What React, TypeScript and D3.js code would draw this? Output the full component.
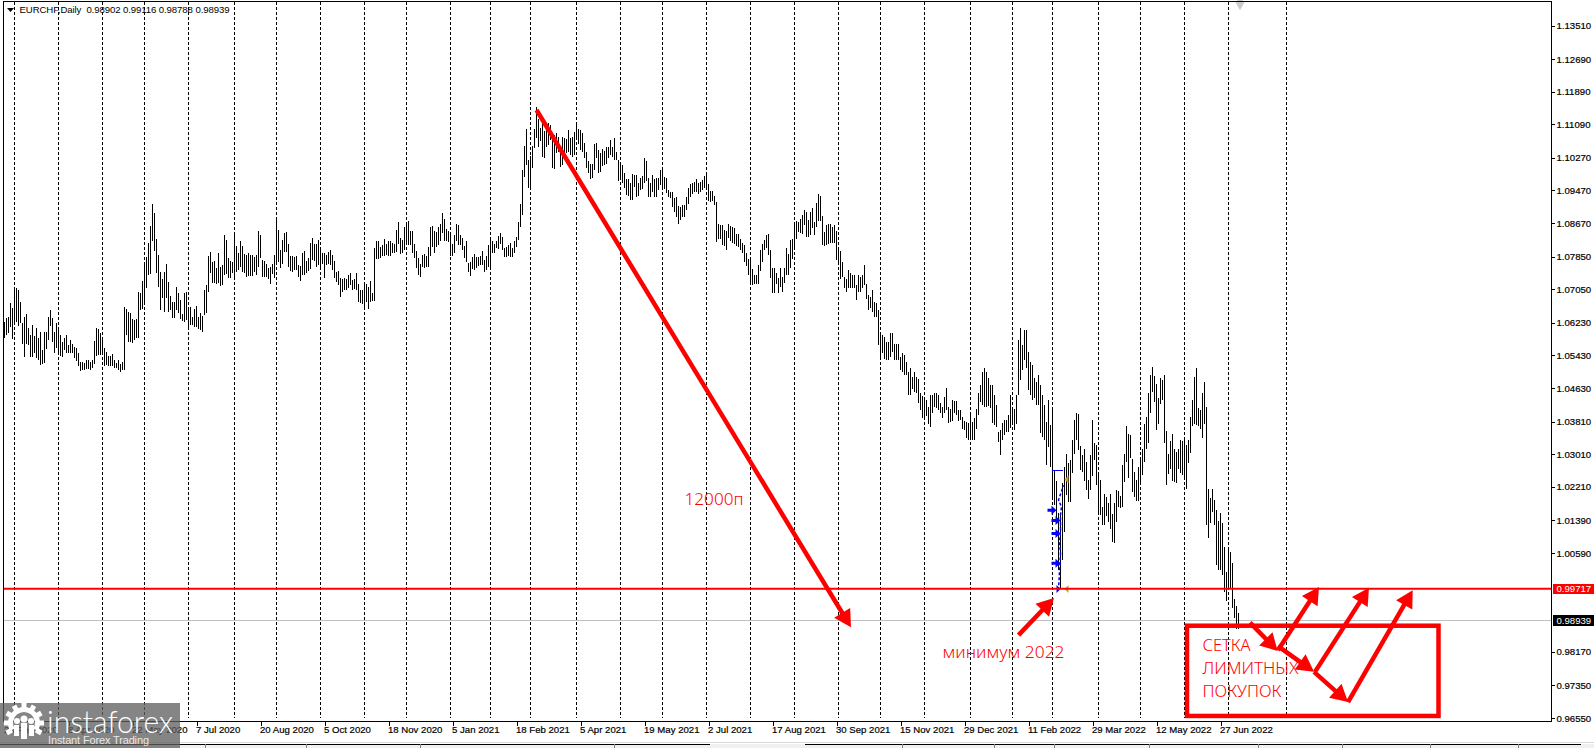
import { useEffect, useRef } from 'react';
import * as d3 from 'd3';

// daily highs and lows of EURCHF, in 1/10000 of a franc
const highPoints = [
  10626,10634,10638,10671,10658,10707,10707,10703,10675,10622,10638,10644,10609,10593,10618,10591,10609,10585,10601,10556,
  10601,10600,10638,10654,10634,10601,10623,10605,10593,10577,10585,10593,10569,10581,10570,10564,10560,10550,10528,10526,
  10524,10532,10532,10528,10533,10578,10609,10607,10599,10589,10560,10552,10542,10542,10547,10532,10524,10532,10522,10526,
  10662,10656,10650,10648,10632,10630,10631,10699,10695,10726,10764,10785,10819,10860,10914,10891,10827,10789,10748,10729,
  10748,10768,10724,10689,10675,10675,10710,10695,10679,10644,10697,10699,10662,10662,10638,10656,10665,10638,10646,10640,
  10703,10715,10786,10797,10773,10774,10756,10793,10760,10764,10838,10826,10781,10774,10773,10838,10811,10793,10822,10811,
  10791,10789,10793,10789,10789,10785,10789,10848,10838,10777,10774,10767,10756,10759,10767,10789,10883,10850,10801,10826,
  10842,10846,10816,10787,10787,10785,10787,10764,10762,10795,10799,10774,10782,10819,10830,10817,10816,10826,10809,10795,
  10793,10789,10797,10800,10789,10775,10748,10750,10732,10729,10732,10729,10740,10746,10728,10729,10746,10718,10703,10703,
  10715,10717,10711,10725,10697,10805,10822,10823,10808,10813,10827,10817,10822,10822,10819,10817,10850,10869,10830,10826,
  10857,10869,10872,10848,10848,10816,10799,10781,10767,10789,10791,10787,10808,10858,10860,10848,10846,10858,10866,10891,
  10876,10852,10848,10838,10817,10838,10866,10862,10839,10830,10811,10823,10770,10773,10785,10791,10783,10785,10787,10799,
  10777,10787,10813,10834,10822,10817,10824,10835,10844,10834,10807,10809,10813,10819,10807,10824,10834,10869,10915,10997,
  11056,11097,11022,11031,11056,11097,11151,11121,11099,11115,11093,11107,11111,11107,11071,11084,11087,11079,11054,11079,
  11075,11072,11095,11075,11079,11091,11115,11097,11095,11087,11064,11042,11019,11013,11013,11062,11064,11046,11038,11048,
  11044,11054,11054,11071,11053,11075,11042,11022,11015,11009,10989,10974,10974,10965,10987,10985,10985,10965,10977,10982,
  11026,11020,10977,10965,10985,10974,10977,10977,10997,11001,10979,10978,10948,10944,10944,10928,10930,10908,10907,10911,
  10911,10931,10952,10964,10966,10968,10974,10966,10968,10972,10982,10987,10964,10945,10945,10933,10919,10864,10862,10862,
  10850,10848,10864,10860,10858,10856,10840,10840,10829,10819,10813,10793,10780,10778,10754,10739,10739,10764,10802,10817,
  10825,10837,10840,10802,10756,10756,10744,10733,10756,10735,10756,10805,10791,10825,10829,10866,10872,10870,10878,10886,
  10900,10894,10874,10894,10903,10870,10917,10938,10933,10884,10846,10862,10864,10864,10858,10862,10848,10809,10799,10772,
  10735,10731,10752,10744,10739,10739,10715,10739,10735,10739,10764,10717,10690,10686,10703,10674,10672,10654,10601,10593,
  10588,10576,10576,10597,10597,10572,10572,10572,10540,10548,10544,10527,10503,10511,10491,10503,10491,10486,10450,10443,
  10442,10435,10417,10447,10446,10452,10452,10446,10427,10417,10440,10464,10417,10411,10433,10432,10432,10409,10409,10393,
  10383,10380,10378,10397,10380,10389,10411,10450,10470,10502,10512,10502,10487,10470,10470,10446,10421,10355,10360,10377,
  10384,10384,10397,10446,10409,10411,10446,10581,10610,10568,10605,10605,10551,10527,10519,10487,10478,10495,10470,10446,
  10421,10380,10434,10372,10409,10260,10235,10157,10157,10230,10270,10301,10279,10287,10337,10385,10401,10399,10321,10299,
  10315,10283,10238,10299,10385,10329,10323,10250,10239,10172,10203,10197,10181,10203,10155,10181,10213,10212,10199,10274,
  10301,10370,10350,10347,10289,10258,10239,10270,10295,10314,10376,10393,10452,10495,10515,10492,10474,10438,10487,10484,
  10495,10358,10301,10334,10350,10315,10307,10315,10336,10334,10340,10323,10336,10393,10435,10491,10511,10413,10409,10450,
  10477,10417,10217,10193,10215,10189,10164,10137,10157,10132,10073,10012,10070,10061,10034,9946,9929,9912,
];
const lowPoints = [
  10586,10593,10597,10613,10583,10618,10626,10615,10622,10571,10540,10571,10569,10540,10538,10548,10536,10532,10520,10522,
  10524,10559,10581,10616,10577,10550,10562,10552,10542,10540,10556,10548,10548,10548,10548,10536,10529,10517,10505,10507,
  10507,10509,10509,10507,10511,10521,10542,10544,10544,10548,10516,10520,10517,10517,10516,10511,10511,10507,10503,10507,
  10507,10593,10577,10577,10574,10581,10585,10585,10654,10656,10666,10707,10740,10742,10822,10799,10744,10711,10654,10683,
  10650,10683,10650,10654,10634,10634,10654,10646,10631,10627,10626,10630,10613,10618,10618,10613,10612,10607,10605,10601,
  10642,10648,10699,10744,10720,10720,10718,10720,10713,10715,10740,10742,10732,10732,10744,10736,10748,10752,10759,10748,
  10744,10734,10737,10737,10737,10748,10740,10760,10781,10734,10734,10734,10729,10718,10742,10732,10773,10773,10758,10767,
  10797,10797,10760,10750,10748,10752,10752,10736,10726,10740,10740,10746,10750,10754,10777,10774,10759,10764,10756,10767,
  10733,10764,10767,10764,10752,10732,10724,10715,10687,10699,10703,10702,10707,10715,10702,10706,10703,10675,10671,10669,
  10661,10675,10657,10675,10676,10676,10779,10779,10781,10786,10787,10789,10787,10787,10793,10793,10797,10817,10791,10793,
  10801,10813,10813,10813,10793,10781,10758,10740,10734,10760,10756,10759,10759,10786,10809,10795,10809,10813,10822,10844,
  10822,10822,10820,10787,10787,10793,10822,10813,10813,10801,10781,10773,10748,10738,10754,10752,10756,10762,10764,10764,
  10748,10751,10759,10759,10795,10793,10805,10803,10817,10801,10785,10783,10786,10785,10783,10795,10809,10826,10858,10887,
  10981,11009,10952,10956,11001,11050,11075,11054,11067,11030,11026,11053,11058,11071,11001,11000,11038,11042,11005,11009,
  11034,11038,11042,11034,11030,11034,11071,11062,11046,11042,11026,11001,10989,10974,10977,10997,11026,10989,10991,11007,
  11009,11013,11026,11034,11030,11022,11022,10971,10977,10965,10952,10936,10934,10924,10924,10956,10932,10934,10948,10950,
  10965,10969,10930,10930,10944,10930,10930,10948,10960,10951,10951,10940,10930,10928,10906,10895,10883,10866,10874,10881,
  10882,10899,10915,10930,10939,10943,10943,10938,10943,10948,10952,10949,10921,10919,10921,10911,10821,10829,10829,10813,
  10810,10801,10831,10823,10819,10817,10811,10809,10801,10794,10772,10762,10739,10717,10715,10717,10717,10717,10749,10772,
  10802,10807,10788,10733,10696,10695,10717,10695,10711,10699,10721,10741,10739,10756,10780,10801,10829,10846,10844,10841,
  10863,10833,10833,10837,10854,10837,10858,10872,10872,10813,10811,10813,10817,10819,10819,10819,10776,10768,10731,10734,
  10707,10699,10707,10707,10707,10707,10678,10699,10699,10709,10715,10680,10655,10658,10650,10636,10636,10568,10540,10548,
  10535,10531,10531,10540,10552,10531,10531,10531,10507,10503,10496,10495,10446,10446,10460,10454,10452,10427,10409,10389,
  10393,10394,10376,10368,10401,10417,10413,10409,10401,10389,10401,10409,10378,10380,10383,10401,10398,10383,10384,10364,
  10360,10340,10336,10344,10336,10336,10364,10397,10429,10421,10416,10416,10419,10414,10377,10372,10367,10331,10299,10336,
  10348,10355,10355,10365,10377,10360,10375,10446,10483,10507,10532,10512,10458,10446,10434,10438,10421,10421,10353,10343,
  10336,10274,10319,10269,10196,10176,10132,10017,9971,10042,10111,10201,10185,10185,10254,10301,10336,10311,10262,10258,
  10236,10213,10191,10213,10248,10287,10226,10156,10152,10128,10128,10150,10136,10119,10087,10084,10136,10171,10170,10171,
  10234,10283,10242,10291,10209,10197,10187,10187,10226,10250,10283,10315,10328,10401,10454,10430,10360,10376,10425,10434,
  10329,10226,10252,10266,10236,10234,10230,10266,10254,10250,10242,10217,10279,10305,10370,10376,10372,10370,10362,10340,
  10376,10128,10097,10133,10160,10128,10029,10017,10017,10005,9963,9941,9968,9973,9924,9900,9873,9873,
];

// bar index of every month separator
const monthBars = [5,27,49,70,92,115,136,158,180,201,223,243,263,286,308,329,351,373,395,417,438,460,483,504,524,547,568,590,612,641];

// the time axis labels every 32nd bar
const dateLabels = [
  '24 Feb 2020','8 Apr 2020','22 May 2020','7 Jul 2020','20 Aug 2020','5 Oct 2020','18 Nov 2020','5 Jan 2021','18 Feb 2021','5 Apr 2021',
  '19 May 2021','2 Jul 2021','17 Aug 2021','30 Sep 2021','15 Nov 2021','29 Dec 2021','11 Feb 2022','29 Mar 2022','12 May 2022','27 Jun 2022',
];
const priceTicks = [
  1.1351,1.1269,1.1189,1.1109,1.1027,1.0947,1.0867,1.0785,1.0705,1.0623,1.0543,1.0463,1.0381,1.0301,1.0221,1.0139,1.0059,0.9817,0.9735,0.9655,
];

const minimumPrice = 0.99717;
const lastPrice = 0.98939;

// hand drawn annotations, as [bar, price, bar, price]
const mainArrow = [266, 1.1144, 423.25, 0.9877];
const minimumArrow = [507, 0.9858, 524.75, 0.9949];
const gridArrows = [
  [622.75, 0.98885, 636.6, 0.9819],
  [636.75, 0.9831, 654.75, 0.9768],
  [654.75, 0.9768, 671.75, 0.9694],
  [636.75, 0.9821, 657.25, 0.9976],
  [655.25, 0.9768, 682.25, 0.9974],
  [671.75, 0.9694, 704.1, 0.9968],
];
const gridBox = [591.25, 0.9881, 717, 0.966];
const gridText = ['СЕТКА', 'ЛИМИТНЫХ', 'ПОКУПОК'];
const gridTextPrices = [0.9819, 0.9762, 0.9706];
const gridTextWidths = [48, 96, 79];

// indicator drawn around the 2022 low
const buyMarks = [[524, 1.0164], [526, 1.0139], [526, 1.0107], [526, 1.0034]];
const stopTrail = [[527, 0.9968], [528, 1.0059], [527.5, 1.0083], [528, 1.0115], [528, 1.0152], [528.5, 1.0172], [527, 1.0189], [529.5, 1.0225]];
const sellMarks = [[531, 1.0239], [531, 0.9971]];

const bottomTicksLeft = [205, 306, 420, 614];
const bottomTicksRight = [902, 994, 1054, 1149, 1258, 1342, 1430, 1518];

const WIDTH = 1594;
const HEIGHT = 748;
const RED = '#ff0000';
const LABEL_FONT = '"Liberation Sans", sans-serif';
const LABEL_SIZE = 9.6;
const NOTE_FONT = '"Noto Sans", sans-serif';

export default function App() {
  const svgRef = useRef<SVGSVGElement>(null);

  useEffect(() => {
    if (!svgRef.current) return;

    const svg = d3.select(svgRef.current);
    svg.selectAll('*').remove();

    const x = d3.scaleLinear().domain([0, 641]).range([4.5, 1286.5]);
    const y = d3.scaleLinear().domain([0.9655, 1.1351]).range([718, 25.5]);

    const plotRight = 1551.5;
    const plotBottom = 721.5;

    svg.append('rect').attr('width', WIDTH).attr('height', HEIGHT).attr('fill', '#ffffff');

    // Strip below the chart
    svg.append('rect').attr('y', 744).attr('width', WIDTH).attr('height', 4).attr('fill', '#f0f0f0');
    svg.append('line').attr('x1', 0).attr('x2', WIDTH).attr('y1', 742.5).attr('y2', 742.5).attr('stroke', '#d8d8d8');
    const strip = svg.append('g').attr('stroke', '#000000').attr('shape-rendering', 'crispEdges');
    strip.append('line').attr('x1', 0).attr('x2', 710).attr('y1', 744.5).attr('y2', 744.5);
    strip.append('line').attr('x1', 805).attr('x2', 1581).attr('y1', 744.5).attr('y2', 744.5);
    [...bottomTicksLeft, ...bottomTicksRight].forEach((t) => {
      strip.append('line').attr('x1', t + 0.5).attr('x2', t + 0.5).attr('y1', 744).attr('y2', 748).attr('stroke', '#808080');
    });

    // Month separators
    svg
      .append('g')
      .selectAll('line')
      .data(monthBars)
      .join('line')
      .attr('x1', (d) => x(d))
      .attr('x2', (d) => x(d))
      .attr('y1', 2)
      .attr('y2', 718)
      .attr('stroke', '#000000')
      .attr('stroke-dasharray', '3,2')
      .attr('shape-rendering', 'crispEdges');

    // Last price line
    svg
      .append('line')
      .attr('x1', 3)
      .attr('x2', plotRight)
      .attr('y1', Math.round(y(lastPrice)) + 0.5)
      .attr('y2', Math.round(y(lastPrice)) + 0.5)
      .attr('stroke', '#c0c0c0')
      .attr('shape-rendering', 'crispEdges');

    // Bars
    svg
      .append('g')
      .selectAll('line')
      .data(highPoints)
      .join('line')
      .attr('x1', (_, i) => x(i))
      .attr('x2', (_, i) => x(i))
      .attr('y1', (d) => y(d / 10000))
      .attr('y2', (_, i) => y(lowPoints[i] / 10000))
      .attr('stroke', '#000000')
      .attr('shape-rendering', 'crispEdges');

    // Indicator marks at the 2022 low
    svg
      .append('line')
      .attr('x1', x(523.5))
      .attr('x2', x(529))
      .attr('y1', y(1.0261))
      .attr('y2', y(1.0261))
      .attr('stroke', '#0000ff')
      .attr('shape-rendering', 'crispEdges');
    svg
      .append('path')
      .attr('d', d3.line<number[]>().x((d) => x(d[0])).y((d) => y(d[1]))(stopTrail))
      .attr('fill', 'none')
      .attr('stroke', '#0000ff')
      .attr('stroke-width', 1.5)
      .attr('stroke-dasharray', '3,2');
    buyMarks.forEach(([b, p]) => {
      const cx = x(b);
      const cy = y(p);
      svg
        .append('path')
        .attr('d', `M${cx - 5},${cy - 1.5}h4v-3l5,4.5l-5,4.5v-3h-4z`)
        .attr('fill', '#0000ff');
    });
    svg
      .append('path')
      .attr('d', `M${x(527) - 2},${y(0.9971) - 4}l4,4l-4,4z`)
      .attr('fill', '#0000ff');
    sellMarks.forEach(([b, p]) => {
      svg
        .append('path')
        .attr('d', `M${x(b) + 2},${y(p) - 4}l-4,4l4,4z`)
        .attr('fill', '#c8a040');
    });

    // Alert marker cut by the top of the window
    svg
      .append('path')
      .attr('d', d3.symbol(d3.symbolDiamond, 60)())
      .attr('transform', `translate(${x(617.75)},${y(1.1406)})`)
      .attr('fill', '#cccccc');

    // Level of the 2022 low
    svg
      .append('line')
      .attr('x1', 3)
      .attr('x2', plotRight)
      .attr('y1', y(minimumPrice))
      .attr('y2', y(minimumPrice))
      .attr('stroke', RED)
      .attr('stroke-width', 2);

    // Frame
    svg
      .append('path')
      .attr('d', `M3.5,${plotBottom}V1.5H${plotRight}V${plotBottom}H3.5`)
      .attr('fill', 'none')
      .attr('stroke', '#000000')
      .attr('shape-rendering', 'crispEdges');
    svg.append('line').attr('x1', 3).attr('x2', 3).attr('y1', 1).attr('y2', plotBottom).attr('stroke', '#000000').attr('shape-rendering', 'crispEdges');

    const styleLabels = (sel: d3.Selection<d3.BaseType, unknown, SVGGElement, unknown>) =>
      sel
        .attr('font-family', LABEL_FONT)
        .attr('font-size', LABEL_SIZE)
        .attr('fill', '#000000')
        .attr('stroke', '#000000')
        .attr('stroke-width', 0.2);

    // Price axis
    const priceAxis = svg
      .append('g')
      .attr('transform', `translate(${plotRight},0)`)
      .call(d3.axisRight(y).tickValues(priceTicks).tickFormat(d3.format('.5f') as never).tickSize(3).tickPadding(2).tickSizeOuter(0));
    priceAxis.select('.domain').remove();
    priceAxis.selectAll('line').attr('shape-rendering', 'crispEdges');
    styleLabels(priceAxis.selectAll('text'));

    // Time axis
    const timeAxis = svg
      .append('g')
      .attr('transform', `translate(0,${plotBottom})`)
      .call(
        d3
          .axisBottom(x)
          .tickValues(dateLabels.map((_, i) => i * 32))
          .tickFormat((_, i) => dateLabels[i])
          .tickSize(4)
          .tickSizeOuter(0),
      );
    timeAxis.select('.domain').remove();
    timeAxis.selectAll('line').attr('shape-rendering', 'crispEdges');
    styleLabels(timeAxis.selectAll('text')).attr('text-anchor', 'start').attr('x', -1).attr('y', 5);

    // Price tags
    const tag = (price: number, top: number, height: number, fill: string) => {
      const py = y(price);
      svg.append('rect').attr('x', 1553).attr('y', top).attr('width', 41).attr('height', height).attr('fill', fill);
      svg
        .append('text')
        .attr('x', 1556.5)
        .attr('y', py + 3.5)
        .attr('font-family', LABEL_FONT)
        .attr('font-size', LABEL_SIZE)
        .attr('fill', '#ffffff')
        .text(d3.format('.5f')(price));
    };
    tag(minimumPrice, 584, 10, RED);
    tag(lastPrice, 615, 11, '#000000');

    // Title
    svg
      .append('path')
      .attr('d', 'M7,8h7l-3.5,4z')
      .attr('fill', '#000000');
    svg
      .append('text')
      .attr('x', 19.5)
      .attr('y', 13)
      .attr('font-family', LABEL_FONT)
      .attr('font-size', 9.6)
      .attr('fill', '#000000')
      .attr('xml:space', 'preserve')
      .attr('textLength', 210)
      .text('EURCHF,Daily  0.98902 0.99116 0.98788 0.98939');

    // Arrows
    const arrow = (coords: number[], width: number, head: number) => {
      const [b0, p0, b1, p1] = coords;
      const x0 = x(b0);
      const y0 = y(p0);
      const x1 = x(b1);
      const y1 = y(p1);
      const len = Math.hypot(x1 - x0, y1 - y0);
      const ux = (x1 - x0) / len;
      const uy = (y1 - y0) / len;
      const bx = x1 - ux * head;
      const by = y1 - uy * head;
      svg
        .append('line')
        .attr('x1', x0)
        .attr('y1', y0)
        .attr('x2', bx + ux * 2)
        .attr('y2', by + uy * 2)
        .attr('stroke', RED)
        .attr('stroke-width', width);
      const half = head * 0.55;
      svg
        .append('polygon')
        .attr('points', `${x1},${y1} ${bx - uy * half},${by + ux * half} ${bx + uy * half},${by - ux * half}`)
        .attr('fill', RED);
    };
    arrow(mainArrow, 4.5, 17);
    arrow(minimumArrow, 4.5, 17);
    gridArrows.forEach((a) => arrow(a, 4.5, 17));

    // Box of the limit orders
    svg
      .append('rect')
      .attr('x', x(gridBox[0]))
      .attr('y', y(gridBox[1]))
      .attr('width', x(gridBox[2]) - x(gridBox[0]))
      .attr('height', y(gridBox[3]) - y(gridBox[1]))
      .attr('fill', 'none')
      .attr('stroke', RED)
      .attr('stroke-width', 4.5);

    const note = (bar: number, price: number, text: string, width: number) => {
      svg
        .append('text')
        .attr('x', x(bar))
        .attr('y', y(price))
        .attr('font-family', NOTE_FONT)
        .attr('font-weight', 300)
        .attr('font-size', 17)
        .attr('fill', RED)
        .attr('textLength', width)
        .attr('lengthAdjust', 'spacingAndGlyphs')
        .text(text);
    };
    note(340, 1.0176, '12000п', 59);
    note(469, 0.9803, 'минимум 2022', 122);
    gridText.forEach((t, i) => note(599, gridTextPrices[i], t, gridTextWidths[i]));

    // Watermark
    const mark = svg.append('g');
    mark.append('rect').attr('y', 703).attr('width', 180).attr('height', 45).attr('fill', '#5f5f5f').attr('fill-opacity', 0.76);
    const gear = mark.append('g').attr('transform', 'translate(24,723)').attr('fill', '#ffffff');
    gear.append('path').attr('d', d3.arc()({ innerRadius: 11, outerRadius: 16, startAngle: -2.1, endAngle: 2.1 }) as string);
    d3.range(9).forEach((k) => {
      gear
        .append('rect')
        .attr('x', -2.5)
        .attr('y', -20)
        .attr('width', 5)
        .attr('height', 6)
        .attr('transform', `rotate(${-120 + k * 30})`);
    });
    gear.append('circle').attr('cx', -7).attr('cy', -2).attr('r', 3);
    gear.append('circle').attr('cx', 7).attr('cy', -2).attr('r', 3);
    gear.append('circle').attr('cx', 0).attr('cy', -4).attr('r', 3.5);
    gear.append('rect').attr('x', -3).attr('y', 0).attr('width', 6).attr('height', 16);
    gear.append('rect').attr('x', -10).attr('y', 2).attr('width', 5).attr('height', 11);
    gear.append('rect').attr('x', 5).attr('y', 2).attr('width', 5).attr('height', 11);
    mark
      .append('text')
      .attr('x', 47)
      .attr('y', 733)
      .attr('font-family', 'Lato, "Noto Sans", sans-serif')
      .attr('font-weight', 300)
      .attr('font-size', 31)
      .attr('fill', '#ffffff')
      .attr('textLength', 126)
      .attr('lengthAdjust', 'spacingAndGlyphs')
      .text('instaforex');
    mark
      .append('text')
      .attr('x', 48)
      .attr('y', 744)
      .attr('font-family', LABEL_FONT)
      .attr('font-size', 11)
      .attr('fill', '#e8e8e8')
      .attr('textLength', 101)
      .text('Instant Forex Trading');
  }, []);

  return <svg ref={svgRef} width={WIDTH} height={HEIGHT} style={{ position: 'absolute', left: 0, top: 0, display: 'block' }} />;
}
